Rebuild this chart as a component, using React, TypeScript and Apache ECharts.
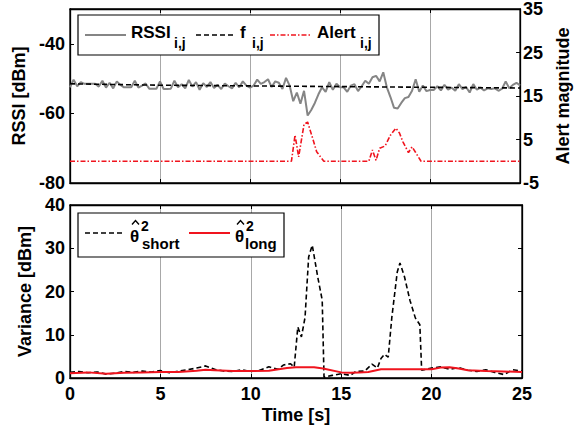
import React, { useEffect, useRef } from "react";
import * as echarts from "echarts";

// ---------- data ----------
const rssiStep = 0.2; // seconds between RSSI samples
const rssiValues = [
  -52.5, -50.3, -52.2, -51.0, -51.5, -51.5, -51.5, -51.5, -52.3, -50.6,
  -52.6, -51.2, -52.8, -50.8, -51.8, -52.5, -52.5, -52.5, -50.6, -52.6,
  -52.0, -51.4, -52.9, -52.9, -52.9, -50.8, -53.0, -53.0, -52.9, -50.6,
  -52.5, -51.6, -52.8, -50.4, -52.3, -51.0, -53.2, -51.3, -52.4, -51.0,
  -52.7, -51.8, -53.0, -51.4, -52.2, -52.8, -51.2, -52.5, -50.8, -52.0,
  -52.6, -52.0, -50.3, -51.5, -51.0, -50.2, -52.4, -50.8, -51.2, -53.0,
  -49.8, -52.0, -56.5, -54.0, -57.2, -53.5, -60.6, -59.0, -57.0, -54.5,
  -52.5, -53.8, -51.0, -53.2, -51.5, -52.5, -52.5, -53.8, -52.0, -51.6,
  -53.6, -52.2, -50.6, -51.5, -49.6, -49.2, -50.8, -48.2, -52.5, -55.3,
  -58.4, -58.6, -57.0, -55.6, -55.3, -53.5, -50.2, -53.8, -52.0, -53.6,
  -53.3, -53.3, -52.2, -53.4, -51.8, -53.2, -52.6, -53.5, -51.6, -53.0,
  -52.4, -54.0, -51.6, -53.2, -52.6, -53.4, -52.8, -53.0, -52.8, -53.5,
  -52.9, -50.8, -52.8, -51.8, -51.2, -52.0,
];

const fTimes = [0, 5, 10, 15, 20, 25];
const fValues = [-51.5, -51.9, -52.1, -52.3, -52.5, -52.7];

const alertTimes = [0, 12.3, 12.5, 12.7, 13.0, 13.2, 13.5, 13.7, 14.1, 16.6, 16.8, 17.0, 17.2, 17.5, 17.8, 18.1, 18.3, 18.5, 18.8, 19.0, 19.2, 19.5, 25];
const alertValues = [0, 0, 6, 1, 8.5, 9, 5, 2.2, 0, 0, 2.6, 0.2, 3, 3.5, 6, 7.6, 6.5, 4.4, 2, 3.3, 2, 0, 0];

const shortTimes = [0, 0.5, 1, 1.5, 2, 2.5, 3, 3.5, 4, 4.5, 5, 5.5, 6, 6.5, 7, 7.5, 8, 8.5, 9, 9.5, 10, 10.5, 11, 11.5, 11.8, 12.2, 12.4, 12.6, 12.8, 13.0, 13.2, 13.4, 13.7, 13.95, 14.05, 14.5, 15, 15.5, 15.8, 16.3, 16.7, 17.0, 17.2, 17.4, 17.6, 17.8, 18.1, 18.25, 18.5, 18.8, 19.1, 19.35, 19.45, 20, 20.5, 21, 21.5, 22, 22.5, 23, 23.5, 24, 24.5, 25];
const shortValues = [1.3, 1.5, 1.2, 1.4, 0.9, 1.1, 1.5, 1.3, 1.6, 1.4, 1.7, 1.2, 1.6, 1.9, 2.3, 2.8, 2.0, 1.6, 1.5, 1.9, 1.5, 1.8, 2.6, 2.0, 3.0, 3.3, 2.5, 11.8, 9.5, 14, 28, 30.7, 23.4, 18, 0.2, 0.6, 1.0, 0.6, 1.5, 1.6, 3.2, 2.3, 4.5, 5.5, 4.8, 14, 24.5, 26.6, 23.4, 18, 13.9, 12.3, 1.8, 2.3, 2.6, 2.0, 2.4, 1.8, 1.5, 1.9, 1.3, 0.8, 1.9, 1.6];

const longTimes = [0, 1, 2, 3, 4, 5, 6, 7, 7.5, 8, 9, 10, 11, 12, 12.5, 13.5, 14, 15, 15.5, 16, 16.5, 17.2, 20, 20.5, 21, 21.5, 22, 23, 24, 25];
const longValues = [1.1, 1.3, 1.0, 1.2, 1.3, 1.4, 1.4, 1.7, 1.9, 1.8, 1.6, 1.6, 1.7, 2.3, 2.5, 2.5, 2.2, 1.3, 1.2, 1.3, 1.4, 2.0, 2.0, 2.4, 2.5, 2.2, 1.8, 1.6, 1.5, 1.4];

const xTicks = [0, 5, 10, 15, 20, 25];
const rssiTicks = [-80, -60, -40];
const alertTicks = [-5, 5, 15, 25, 35];
const varianceTicks = [0, 10, 20, 30, 40];

// ---------- styling ----------
const FONT = '"Liberation Sans", Arial, Helvetica, sans-serif';
const FS = 17;
const AFS = 18;
const GRAY = "#858585";
const RED = "#f0141e";

const pairs = (xs: number[], ys: number[]) => xs.map((x, i) => [x, ys[i]]);

const baseAxis = {
  axisLine: { show: true, onZero: false, lineStyle: { color: "#000", width: 1.3 } },
  axisTick: { show: true, inside: true, length: 4, lineStyle: { color: "#000", width: 1 } },
  axisLabel: { color: "#000", fontSize: AFS, fontWeight: "bold" as const, fontFamily: FONT },
  splitLine: { show: false },
  nameTextStyle: { color: "#000", fontSize: AFS, fontWeight: "bold" as const, fontFamily: FONT },
};

function legendText(text: string, x: number, y: number, size: number, extra: any = {}) {
  return {
    type: "text",
    x,
    y,
    z: 101,
    style: {
      text,
      fill: "#000",
      fontSize: size,
      fontWeight: "bold",
      fontFamily: FONT,
      align: "left",
      verticalAlign: "middle",
      ...extra,
    },
  };
}

function legendLine(x1: number, x2: number, y: number, stroke: string, width: number, dash?: number[]) {
  return {
    type: "line",
    z: 101,
    shape: { x1, y1: y, x2, y2: y },
    style: { stroke, lineWidth: width, lineDash: dash },
  };
}

function hat(cx: number, y: number) {
  return {
    type: "polyline",
    z: 101,
    shape: { points: [[cx - 3.5, y + 4], [cx, y], [cx + 3.5, y + 4]] },
    style: { stroke: "#000", lineWidth: 1.4, fill: "none" },
  };
}

export default function App() {
  const ref = useRef<HTMLDivElement>(null);
  useEffect(() => {
    if (!ref.current) return;
    const chart = echarts.init(ref.current, undefined, { renderer: "svg" });
    const option: any = {
      animation: false,
      backgroundColor: "#fff",
      textStyle: { fontFamily: FONT, fontWeight: "bold" },
      grid: [
        { left: 70, top: 9, width: 452, height: 174, show: true, borderColor: "#000", borderWidth: 1.3, backgroundColor: "#fff" },
        { left: 70, top: 205, width: 452, height: 173, show: true, borderColor: "#000", borderWidth: 1.3, backgroundColor: "#fff" },
      ],
      xAxis: [
        {
          ...baseAxis, gridIndex: 0, type: "value", min: 0, max: 25, interval: 5, position: "bottom",
          axisLabel: { show: false },
          axisTick: { ...baseAxis.axisTick, customValues: xTicks },
          splitLine: { show: true, lineStyle: { color: "#a8a8a8", width: 1 } },
        },
        {
          ...baseAxis, gridIndex: 0, type: "value", min: 0, max: 25, interval: 5, position: "top",
          axisLabel: { show: false },
          axisTick: { ...baseAxis.axisTick, customValues: xTicks },
        },
        {
          ...baseAxis, gridIndex: 1, type: "value", min: 0, max: 25, interval: 5, position: "bottom",
          axisLabel: { ...baseAxis.axisLabel, margin: 7, customValues: xTicks },
          axisTick: { ...baseAxis.axisTick, customValues: xTicks },
          splitLine: { show: true, lineStyle: { color: "#a8a8a8", width: 1 } },
          name: "Time [s]", nameLocation: "middle", nameGap: 28,
        },
        {
          ...baseAxis, gridIndex: 1, type: "value", min: 0, max: 25, interval: 5, position: "top",
          axisLabel: { show: false },
          axisTick: { ...baseAxis.axisTick, customValues: xTicks },
        },
      ],
      yAxis: [
        {
          ...baseAxis, gridIndex: 0, type: "value", min: -80, max: -30, interval: 20, position: "left",
          axisLabel: { ...baseAxis.axisLabel, margin: 5, customValues: rssiTicks },
          axisTick: { ...baseAxis.axisTick, customValues: rssiTicks },
          name: "RSSI [dBm]", nameLocation: "middle", nameGap: 38, nameRotate: 90,
        },
        {
          ...baseAxis, gridIndex: 0, type: "value", min: -5, max: 35, interval: 10, position: "right",
          axisLabel: { ...baseAxis.axisLabel, margin: 3, customValues: alertTicks },
          axisTick: { ...baseAxis.axisTick, customValues: alertTicks },
          name: "Alert magnitude", nameLocation: "middle", nameGap: 30, nameRotate: 90,
        },
        {
          ...baseAxis, gridIndex: 1, type: "value", min: 0, max: 40, interval: 10, position: "left",
          axisLabel: { ...baseAxis.axisLabel, margin: 5, customValues: varianceTicks },
          axisTick: { ...baseAxis.axisTick, customValues: varianceTicks },
          name: "Variance [dBm]", nameLocation: "middle", nameGap: 34, nameRotate: 90,
        },
        {
          ...baseAxis, gridIndex: 1, type: "value", min: 0, max: 40, interval: 10, position: "right",
          axisLabel: { show: false },
          axisTick: { ...baseAxis.axisTick, customValues: varianceTicks },
        },
      ],
      series: [
        {
          name: "RSSI", type: "line", xAxisIndex: 0, yAxisIndex: 0, showSymbol: false, symbol: "none",
          data: rssiValues.map((v, i) => [Math.round(i * rssiStep * 10) / 10, v]),
          lineStyle: { color: GRAY, width: 2 },
        },
        {
          name: "f", type: "line", xAxisIndex: 0, yAxisIndex: 0, showSymbol: false, symbol: "none",
          data: pairs(fTimes, fValues),
          lineStyle: { color: "#000", width: 1.6, type: [5, 3] },
        },
        {
          name: "Alert", type: "line", xAxisIndex: 0, yAxisIndex: 1, showSymbol: false, symbol: "none",
          data: pairs(alertTimes, alertValues),
          lineStyle: { color: RED, width: 1.6, type: [5, 2, 1.5, 2] },
        },
        {
          name: "short", type: "line", xAxisIndex: 2, yAxisIndex: 2, showSymbol: false, symbol: "none",
          data: pairs(shortTimes, shortValues),
          lineStyle: { color: "#000", width: 1.6, type: [5, 3] },
        },
        {
          name: "long", type: "line", xAxisIndex: 2, yAxisIndex: 2, showSymbol: false, symbol: "none",
          data: pairs(longTimes, longValues),
          lineStyle: { color: RED, width: 2 },
        },
      ],
      graphic: [
        // top legend
        { type: "rect", z: 100, shape: { x: 78, y: 15, width: 301, height: 40 }, style: { fill: "#fff", stroke: "#000", lineWidth: 1.2 } },
        legendLine(85, 126, 35, GRAY, 2),
        legendText("RSSI", 131, 32.5, FS),
        legendText("i,j", 174, 43, 14),
        legendLine(196, 235, 35, "#000", 1.6, [5, 3]),
        legendText("f", 240, 32.5, FS),
        legendText("i,j", 252, 43, 14),
        legendLine(270, 312, 35, RED, 1.6, [5, 2, 1.5, 2]),
        legendText("Alert", 317, 32.5, FS),
        legendText("i,j", 360, 43, 14),
        // bottom legend
        { type: "rect", z: 100, shape: { x: 78, y: 213, width: 206, height: 44 }, style: { fill: "#fff", stroke: "#000", lineWidth: 1.2 } },
        legendLine(85, 125, 233, "#000", 1.6, [5, 3]),
        legendText("θ", 130, 236.5, FS),
        hat(135.5, 220.5),
        legendText("2", 141, 225.5, 14),
        legendText("short", 142, 243, 15),
        legendLine(189, 230, 233, RED, 2),
        legendText("θ", 235, 236.5, FS),
        hat(240.5, 220.5),
        legendText("2", 246, 225.5, 14),
        legendText("long", 245, 243, 15),
      ],
    };
    chart.setOption(option);
    return () => chart.dispose();
  }, []);
  return (
    <div
      ref={ref}
      style={{ position: "fixed", left: 0, top: 0, width: 580, height: 432, background: "#fff" }}
    />
  );
}
